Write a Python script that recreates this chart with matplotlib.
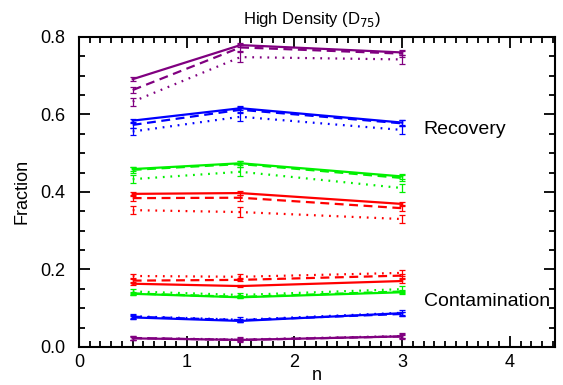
import numpy as np
import matplotlib
matplotlib.use('Agg')
import matplotlib.pyplot as plt
from matplotlib.ticker import MultipleLocator

plt.rcParams['font.family'] = ['Liberation Sans', 'DejaVu Sans']

# chart values
n = [0.5, 1.5, 3.0]
colors = ['purple', 'blue', '#00f000', 'red']
styles = ['-', '--', ':']

# recovery, one row per line style (solid, dashed, dotted)
rec_purple = [[0.691, 0.779, 0.760], [0.663, 0.773, 0.757], [0.633, 0.748, 0.742]]
rec_blue = [[0.584, 0.616, 0.579], [0.573, 0.612, 0.577], [0.556, 0.594, 0.560]]
rec_green = [[0.459, 0.474, 0.440], [0.457, 0.472, 0.436], [0.433, 0.452, 0.410]]
rec_red = [[0.395, 0.397, 0.369], [0.384, 0.385, 0.358], [0.353, 0.348, 0.330]]
rec_err = [[0.005, 0.005, 0.006], [0.007, 0.008, 0.008], [0.010, 0.012, 0.011]]

# contamination
con_purple = [[0.022, 0.018, 0.027], [0.023, 0.018, 0.027], [0.023, 0.019, 0.028]]
con_blue = [[0.076, 0.067, 0.087], [0.078, 0.069, 0.085], [0.079, 0.070, 0.088]]
con_green = [[0.137, 0.128, 0.141], [0.138, 0.129, 0.143], [0.143, 0.134, 0.149]]
con_red = [[0.163, 0.157, 0.170], [0.171, 0.173, 0.184], [0.183, 0.181, 0.191]]
con_err = [[0.003, 0.003, 0.004], [0.004, 0.004, 0.005], [0.006, 0.006, 0.007]]

recovery = [rec_purple, rec_blue, rec_green, rec_red]
contamination = [con_purple, con_blue, con_green, con_red]

fig = plt.figure(figsize=(5.63, 3.85), dpi=100)
ax = fig.add_axes([0.140, 0.099, 0.846, 0.805])

for c, rec, con in zip(colors, recovery, contamination):
    for i, ls in enumerate(styles):
        dash = (4, 2.5) if ls == '--' else ((0.8, 2.6) if ls == ':' else (None, None))
        for vals, err in ((rec[i], rec_err[i]), (con[i], con_err[i])):
            ax.errorbar(n, vals, yerr=err, color=c, linestyle=ls, linewidth=1.6,
                        dashes=dash, elinewidth=0.9, capsize=2.5, capthick=0.9)

ax.set_xlim(0, 4.42)
ax.set_ylim(0, 0.8)
ax.xaxis.set_major_locator(MultipleLocator(1))
ax.xaxis.set_minor_locator(MultipleLocator(0.1))
ax.yaxis.set_major_locator(MultipleLocator(0.2))
ax.yaxis.set_minor_locator(MultipleLocator(0.05))
ax.set_yticklabels(['%.1f' % v for v in ax.get_yticks()])
ax.tick_params(which='both', direction='in', top=True, right=True, width=1.3, labelsize=13)
ax.tick_params(which='major', length=8)
ax.tick_params(which='minor', length=4)
ax.tick_params(axis='y', pad=10)
ax.tick_params(axis='x', pad=5)
for s in ax.spines.values():
    s.set_linewidth(1.5)

ax.set_xlabel('n', fontsize=13, labelpad=-3)
ax.set_ylabel('Fraction', fontsize=13, labelpad=7)
ax.set_title('High Density (D$_{75}$)', fontsize=12, pad=9, x=0.49)

ax.text(3.2, 0.56, 'Recovery', fontsize=14, va='center')
ax.text(3.2, 0.116, 'Contamination', fontsize=14, va='center')

plt.savefig('out.png', dpi=100)
